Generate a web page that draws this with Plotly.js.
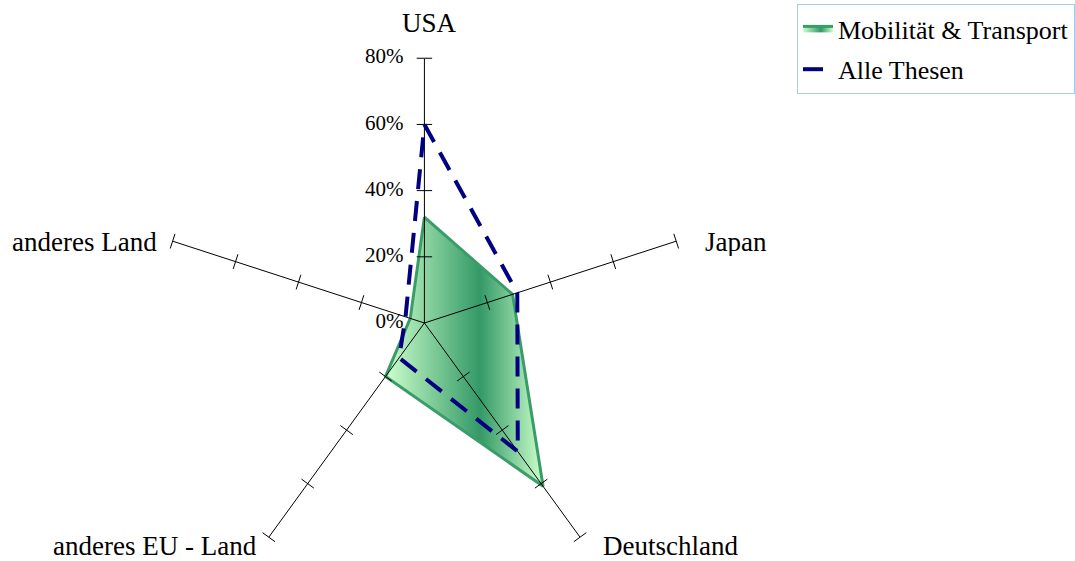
<!DOCTYPE html>
<html>
<head>
<meta charset="utf-8">
<script src="https://cdn.plot.ly/plotly-3.0.1.min.js"></script>
<style>
html, body { margin: 0; padding: 0; overflow: hidden; background: #fff; }
#chart { width: 1075px; height: 600px; }
</style>
</head>
<body>
<div id="chart"></div>
<script>
const categories = ['USA', 'Japan', 'Deutschland', 'anderes EU - Land', 'anderes Land'];
const mobilitaet = [0.32, 0.28, 0.61, 0.20, 0.045];
const alleThesen = [0.60, 0.295, 0.48, 0.13, 0.06];
const tickValues = [0, 0.2, 0.4, 0.6, 0.8];
const tickLabels = ['0%', '20%', '40%', '60%', '80%'];
const seriesNames = ['Mobilität & Transport', 'Alle Thesen'];

const close = a => a.concat([a[0]]);
const FONT = 'Liberation Serif, Times New Roman, serif';
const rMax = tickValues[tickValues.length - 1];

// spokes and their tick marks, built from the category and tick arrays
const spokeR = [], spokeT = [];
const tickR = [], tickT = [], tickA = [];
categories.forEach((c, i) => {
  spokeR.push(0, rMax, null); spokeT.push(c, c, null);
  tickValues.slice(1).forEach(v => {
    tickR.push(v); tickT.push(c); tickA.push(i * 360 / categories.length);
  });
});

const traces = [
  {
    type: 'scatterpolar',
    r: close(mobilitaet), theta: close(categories),
    name: seriesNames[0], legendgroup: 'a',
    mode: 'lines', fill: 'toself',
    fillcolor: '#5cb07e',
    line: { color: '#3a9d69', width: 3 }
  },
  {
    type: 'scatterpolar', r: spokeR, theta: spokeT, mode: 'lines',
    showlegend: false, hoverinfo: 'skip', cliponaxis: false,
    line: { color: '#000', width: 1 }
  },
  {
    type: 'scatterpolar',
    r: tickR, theta: tickT, mode: 'markers', showlegend: false, hoverinfo: 'skip', cliponaxis: false,
    marker: { symbol: 'line-ew', size: 11, angle: tickA, color: '#000', line: { color: '#000', width: 1 } }
  },
  {
    type: 'scatterpolar',
    r: tickValues, theta: tickValues.map(() => categories[0]),
    mode: 'markers+text', text: tickLabels, textposition: 'middle left',
    textfont: { family: FONT, size: 21, color: '#000' },
    marker: { size: 32, color: 'rgba(0,0,0,0)' },
    cliponaxis: false, showlegend: false, hoverinfo: 'skip'
  },
  {
    type: 'scatterpolar',
    r: close(alleThesen), theta: close(categories),
    name: seriesNames[1], legendgroup: 'b',
    mode: 'lines',
    line: { color: '#000080', width: 4, dash: '20px,12px' }
  }
];

const H = 600;
const labelPos = [
  { x: 433, y: 23, xanchor: 'center' },
  { x: 710, y: 242, xanchor: 'left' },
  { x: 607, y: 546, xanchor: 'left' },
  { x: 260, y: 546, xanchor: 'right' },
  { x: 159, y: 242, xanchor: 'right' }
];
const annotations = categories.map((c, i) => ({
  text: c, xref: 'paper', yref: 'paper',
  x: labelPos[i].x / 1075, y: 1 - labelPos[i].y / H,
  xanchor: labelPos[i].xanchor, yanchor: 'middle', showarrow: false,
  height: 28, borderpad: 0,
  font: { family: FONT, size: 27, color: '#000' }
}));

const layout = {
  width: 1075, height: H,
  margin: { l: 0, r: 0, t: 0, b: 0 },
  paper_bgcolor: '#fff',
  font: { family: FONT, color: '#000', size: 26 },
  showlegend: true,
  annotations: annotations,
  legend: {
    x: 804 / 1075, y: 1 - 4 / H, xanchor: 'left', yanchor: 'top',
    bordercolor: '#a6caf0', borderwidth: 1, bgcolor: '#fff',
    font: { family: FONT, size: 26, color: '#000' },
    tracegroupgap: 4, itemwidth: 30
  },
  polar: {
    domain: { x: [161 / 1075, 695 / 1075], y: [10 / H, 544 / H] },
    bgcolor: 'rgba(0,0,0,0)',
    gridshape: 'circular',
    radialaxis: {
      range: [0, rMax], angle: 90,
      showgrid: false, showline: false, showticklabels: false, ticks: ''
    },
    angularaxis: {
      rotation: 90, direction: 'clockwise',
      showline: false, showgrid: false, showticklabels: false, ticks: ''
    }
  }
};

function addGradient() {
  const svg = document.querySelector('#chart svg.main-svg');
  const NS = 'http://www.w3.org/2000/svg';
  let defs = svg.querySelector('defs');
  if (!defs) { defs = document.createElementNS(NS, 'defs'); svg.insertBefore(defs, svg.firstChild); }
  const grad = document.createElementNS(NS, 'linearGradient');
  grad.setAttribute('id', 'mtGrad');
  grad.setAttribute('x1', '0'); grad.setAttribute('x2', '1');
  grad.setAttribute('y1', '0'); grad.setAttribute('y2', '0');
  [[0, '#ccffcc'], [0.6, '#339966'], [1, '#ccffcc']].forEach(([o, c]) => {
    const s = document.createElementNS(NS, 'stop');
    s.setAttribute('offset', o); s.setAttribute('stop-color', c);
    grad.appendChild(s);
  });
  defs.appendChild(grad);
  const tr = document.querySelectorAll('#chart .polarlayer .scatterlayer .trace')[0];
  if (tr) {
    const f = tr.querySelector('path.js-fill');
    if (f) { f.style.fill = 'url(#mtGrad)'; f.style.fillOpacity = 1; }
  }
  const lg = document.querySelectorAll('#chart .legend .traces')[0];
  if (lg) {
    const lf = lg.querySelector('.legendfill path');
    if (lf) { lf.style.fill = 'url(#mtGrad)'; lf.style.fillOpacity = 1; }
  }
}

Plotly.newPlot('chart', traces, layout, { displayModeBar: false, staticPlot: true }).then(addGradient);
</script>
</body>
</html>
